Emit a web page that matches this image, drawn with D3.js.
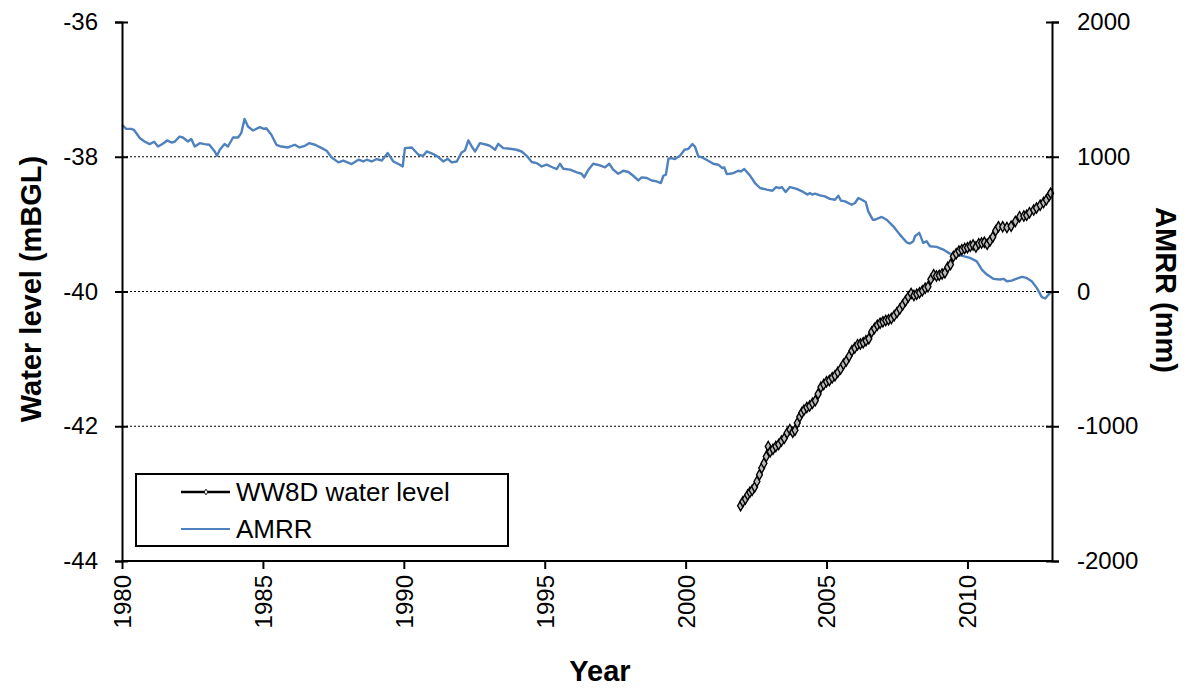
<!DOCTYPE html>
<html><head><meta charset="utf-8">
<script src="https://cdn.jsdelivr.net/npm/d3@7"></script>
<style>body{margin:0;background:#fff}svg text{font-family:"Liberation Sans",Arial,sans-serif;fill:#000}</style>
</head><body><svg id="c" width="1194" height="688"></svg>
<script>
const amrrYears = [1980.0,1980.15,1980.33,1980.42,1980.63,1980.8,1980.98,1981.14,1981.28,1981.46,1981.6,1981.75,1981.87,1982.04,1982.16,1982.34,1982.46,1982.58,1982.76,1982.93,1983.1,1983.29,1983.37,1983.47,1983.64,1983.76,1983.94,1984.12,1984.23,1984.35,1984.47,1984.65,1984.89,1985.03,1985.12,1985.3,1985.48,1985.65,1985.89,1986.13,1986.3,1986.49,1986.64,1986.85,1987.09,1987.26,1987.44,1987.68,1987.85,1988.15,1988.39,1988.56,1988.68,1988.86,1989.04,1989.22,1989.43,1989.63,1989.81,1989.96,1990.04,1990.28,1990.52,1990.69,1990.81,1991.05,1991.22,1991.4,1991.56,1991.7,1991.88,1992.05,1992.17,1992.29,1992.41,1992.53,1992.7,1992.94,1993.06,1993.24,1993.35,1993.53,1993.77,1994.0,1994.18,1994.36,1994.54,1994.71,1994.89,1995.07,1995.25,1995.43,1995.54,1995.66,1995.9,1996.14,1996.31,1996.4,1996.55,1996.72,1996.96,1997.14,1997.29,1997.43,1997.61,1997.79,1997.97,1998.14,1998.32,1998.44,1998.62,1998.8,1998.97,1999.12,1999.21,1999.3,1999.39,1999.5,1999.62,1999.8,1999.96,2000.1,2000.24,2000.33,2000.45,2000.59,2000.8,2000.98,2001.16,2001.3,2001.37,2001.46,2001.57,2001.69,2001.87,2001.96,2002.08,2002.28,2002.46,2002.64,2002.88,2003.08,2003.21,2003.32,2003.41,2003.55,2003.7,2003.94,2004.17,2004.33,2004.41,2004.49,2004.59,2004.77,2004.94,2005.12,2005.3,2005.42,2005.51,2005.66,2005.89,2006.01,2006.13,2006.25,2006.39,2006.48,2006.64,2006.72,2006.96,2007.13,2007.37,2007.6,2007.84,2007.96,2008.08,2008.14,2008.29,2008.43,2008.55,2008.67,2008.91,2009.14,2009.38,2009.62,2009.85,2010.09,2010.33,2010.51,2010.69,2010.92,2011.16,2011.28,2011.4,2011.57,2011.75,2011.93,2012.1,2012.28,2012.46,2012.64,2012.76,2012.88,2012.96];
const amrrValues = [1237,1207,1207,1200,1139,1113,1094,1111,1076,1098,1121,1106,1111,1150,1143,1113,1131,1076,1101,1094,1089,1039,1007,1052,1094,1076,1143,1143,1175,1281,1224,1195,1220,1207,1212,1163,1089,1076,1069,1089,1069,1081,1101,1089,1064,1044,995,958,972,946,978,965,978,965,983,972,1027,965,946,928,1064,1069,1015,1007,1039,1020,998,965,985,958,965,1032,1047,1121,1076,1039,1101,1089,1081,1052,1096,1064,1059,1052,1039,1007,961,953,928,941,924,909,948,911,904,884,874,847,904,948,936,921,948,904,874,896,887,859,824,847,842,824,817,805,859,867,985,990,983,1007,1052,1059,1094,1076,1002,995,970,948,941,916,921,872,874,879,896,891,909,862,805,768,756,748,775,768,775,739,775,761,739,719,731,719,726,713,706,687,681,711,674,669,644,657,694,681,664,595,533,533,553,533,484,422,365,356,373,410,435,361,373,336,331,311,281,274,262,250,224,163,126,94,89,94,76,81,96,109,101,76,27,-42,-52,-22,-5];
const wwYears = [2001.95,2002.03,2002.12,2002.2,2002.28,2002.36,2002.45,2002.53,2002.62,2002.7,2002.78,2002.86,2002.93,2003.0,2003.1,2003.2,2003.3,2003.4,2003.5,2003.6,2003.7,2003.8,2003.88,2003.96,2004.05,2004.12,2004.2,2004.3,2004.4,2004.5,2004.6,2004.7,2004.8,2004.9,2005.0,2005.1,2005.2,2005.3,2005.4,2005.5,2005.6,2005.7,2005.8,2005.9,2006.0,2006.1,2006.2,2006.3,2006.4,2006.5,2006.6,2006.7,2006.8,2006.9,2007.0,2007.1,2007.2,2007.3,2007.4,2007.5,2007.6,2007.7,2007.8,2007.9,2008.0,2008.1,2008.2,2008.3,2008.4,2008.5,2008.6,2008.7,2008.8,2008.9,2009.0,2009.1,2009.2,2009.3,2009.4,2009.5,2009.6,2009.7,2009.8,2009.9,2010.0,2010.1,2010.2,2010.3,2010.4,2010.5,2010.6,2010.7,2010.8,2010.9,2011.0,2011.1,2011.25,2011.4,2011.55,2011.7,2011.85,2012.0,2012.1,2012.2,2012.35,2012.45,2012.58,2012.7,2012.8,2012.9,2012.95];
const wwLevels = [-43.18,-43.12,-43.08,-43.02,-42.98,-42.95,-42.9,-42.82,-42.72,-42.62,-42.55,-42.45,-42.3,-42.38,-42.34,-42.3,-42.27,-42.22,-42.18,-42.1,-42.05,-42.09,-42.06,-41.95,-41.86,-41.8,-41.76,-41.72,-41.7,-41.66,-41.62,-41.52,-41.42,-41.38,-41.34,-41.32,-41.28,-41.25,-41.2,-41.15,-41.08,-41.03,-40.96,-40.88,-40.84,-40.79,-40.78,-40.76,-40.73,-40.7,-40.6,-40.55,-40.5,-40.47,-40.45,-40.43,-40.42,-40.4,-40.36,-40.31,-40.26,-40.2,-40.14,-40.08,-40.03,-40.06,-40.04,-40.02,-39.99,-39.95,-39.93,-39.82,-39.75,-39.77,-39.76,-39.74,-39.72,-39.64,-39.6,-39.48,-39.44,-39.4,-39.38,-39.36,-39.35,-39.33,-39.31,-39.34,-39.29,-39.28,-39.27,-39.3,-39.25,-39.19,-39.1,-39.04,-39.04,-39.05,-39.03,-38.96,-38.89,-38.88,-38.87,-38.83,-38.79,-38.76,-38.72,-38.68,-38.64,-38.58,-38.54];
const xTicks = [1980,1985,1990,1995,2000,2005,2010];
const yLeftTicks = [-44,-42,-40,-38,-36];
const yRightTicks = [-2000,-1000,0,1000,2000];
const gridLevels = [-42,-40,-38];
const seriesNames = ["WW8D water level","AMRR"];

const m = {l:122, r:1052, t:22, b:561};
const svg = d3.select("#c");
svg.append("rect").attr("width",1194).attr("height",688).attr("fill","#fff");
const x = d3.scaleLinear().domain([1980,2013]).range([m.l,m.r]);
const yL = d3.scaleLinear().domain([-44,-36]).range([m.b,m.t]);
const yR = d3.scaleLinear().domain([-2000,2000]).range([m.b,m.t]);
const fmt = d => String(d);

// gridlines
svg.append("g").selectAll("line").data(gridLevels).join("line")
  .attr("x1",m.l).attr("x2",m.r).attr("y1",d=>yL(d)).attr("y2",d=>yL(d))
  .attr("stroke","#000").attr("stroke-width",1).attr("stroke-dasharray","2,2");

// AMRR line
const amrr = amrrYears.map((yr,i)=>[yr,amrrValues[i]]);
svg.append("path").datum(amrr)
  .attr("d", d3.line().x(d=>x(d[0])).y(d=>yR(d[1])))
  .attr("fill","none").attr("stroke","#4f81bd").attr("stroke-width",2.4).attr("stroke-linejoin","round");

// WW8D line
const ww = wwYears.map((yr,i)=>[yr,wwLevels[i]]);
svg.append("path").datum(ww)
  .attr("d", d3.line().x(d=>x(d[0])).y(d=>yL(d[1])))
  .attr("fill","none").attr("stroke","#000").attr("stroke-width",3).attr("stroke-linejoin","round");
const diamond = d3.symbol().type(d3.symbolDiamond).size(30);
svg.append("g").selectAll("path").data(ww).join("path")
  .attr("d",diamond).attr("transform",d=>`translate(${x(d[0])},${yL(d[1])})`)
  .attr("fill","#bbb").attr("stroke","#000").attr("stroke-width",1.4);

function styleAxis(g){
  g.select(".domain").attr("stroke","#000").attr("stroke-width",2);
  g.selectAll(".tick line").attr("stroke","#000").attr("stroke-width",2);
  g.selectAll(".tick text").attr("font-size",24).attr("font-family",'"Liberation Sans",Arial,sans-serif');
}
// left axis
const gl = svg.append("g").attr("transform",`translate(${m.l},0)`)
  .call(d3.axisLeft(yL).tickValues(yLeftTicks).tickFormat(fmt).tickSizeOuter(0).tickSize(7).tickPadding(17));
styleAxis(gl); gl.selectAll(".tick line").attr("x1",6);
// right axis
const gr = svg.append("g").attr("transform",`translate(${m.r},0)`)
  .call(d3.axisRight(yR).tickValues(yRightTicks).tickFormat(fmt).tickSizeOuter(0).tickSize(7).tickPadding(18));
styleAxis(gr); gr.selectAll(".tick line").attr("x1",-6);
// bottom axis
const gb = svg.append("g").attr("transform",`translate(0,${m.b})`)
  .call(d3.axisBottom(x).tickValues(xTicks).tickFormat(fmt).tickSizeOuter(0).tickSize(8));
styleAxis(gb);
gb.select(".domain").attr("d",`M${m.l},0H${m.r}`);
gb.selectAll(".tick text").attr("transform","rotate(-90)").attr("text-anchor","end")
  .attr("x",-14).attr("y",0).attr("dy","0.35em");

// titles
svg.append("text").attr("x",600).attr("y",681).attr("text-anchor","middle")
  .attr("font-size",29).attr("font-weight","bold").text("Year");
svg.append("text").attr("transform","translate(41,289) rotate(-90)").attr("text-anchor","middle")
  .attr("font-size",29).attr("font-weight","bold").text("Water level (mBGL)");
svg.append("text").attr("transform","translate(1156,290) rotate(90)").attr("text-anchor","middle")
  .attr("font-size",29).attr("font-weight","bold").text("AMRR (mm)");

// legend
const lg = svg.append("g");
lg.append("rect").attr("x",136).attr("y",474).attr("width",372).attr("height",72)
  .attr("fill","#fff").attr("stroke","#000").attr("stroke-width",2);
const ly = [492,529];
lg.append("line").attr("x1",181).attr("x2",230).attr("y1",ly[0]).attr("y2",ly[0]).attr("stroke","#000").attr("stroke-width",2.5);
lg.append("path").attr("d",d3.symbol().type(d3.symbolDiamond).size(10)).attr("transform",`translate(206,${ly[0]})`)
  .attr("fill","#fff").attr("stroke","#000").attr("stroke-width",0.8);
lg.append("line").attr("x1",181).attr("x2",230).attr("y1",ly[1]).attr("y2",ly[1]).attr("stroke","#4f81bd").attr("stroke-width",2.2);
lg.selectAll("text.leg").data(seriesNames).join("text").attr("class","leg")
  .attr("x",236).attr("y",(d,i)=>ly[i]).attr("dy","0.35em").attr("font-size",26).text(d=>d);
</script></body></html>
